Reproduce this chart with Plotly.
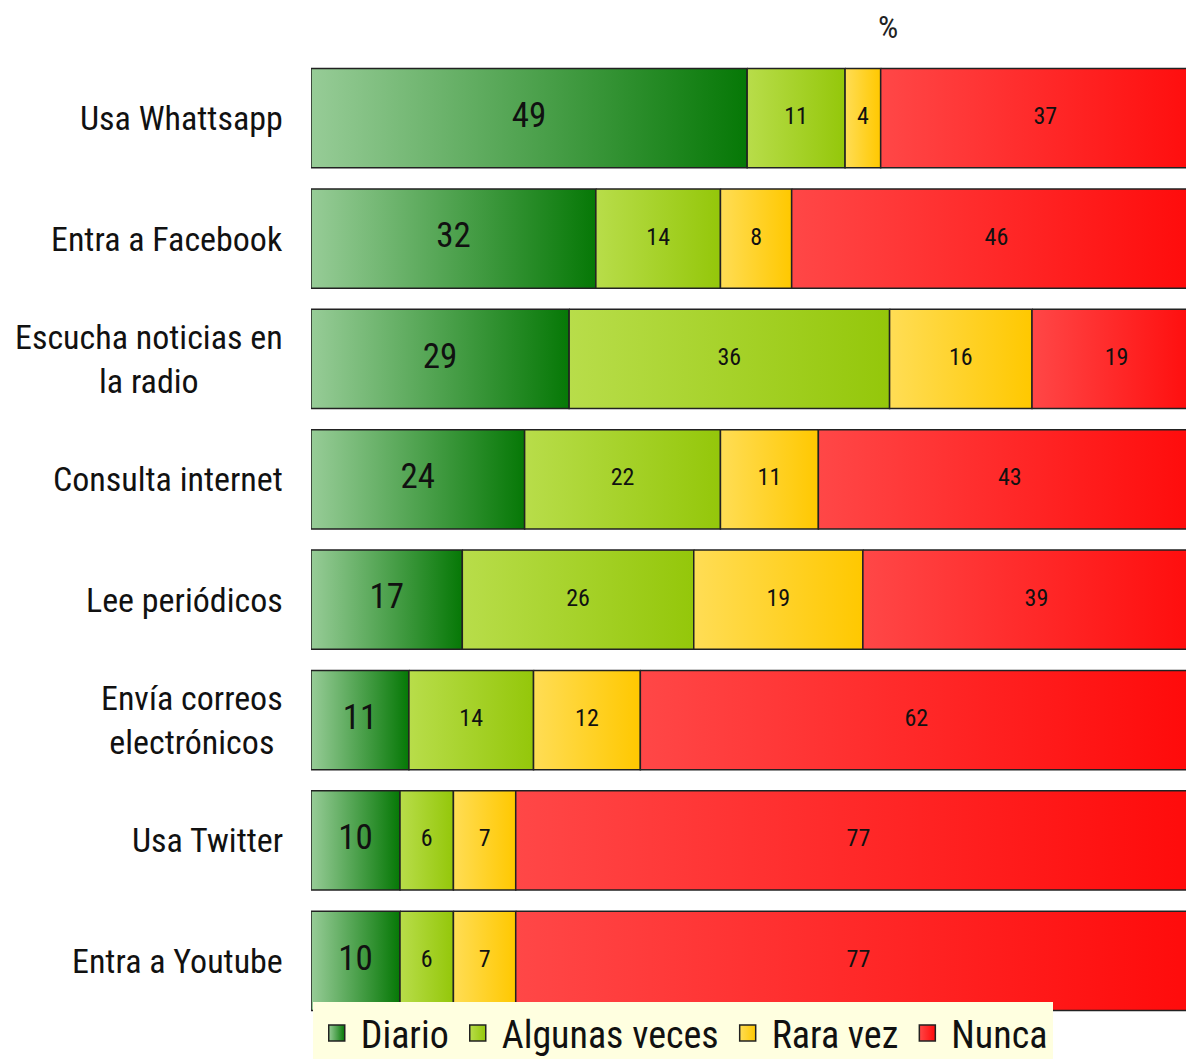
import plotly.graph_objects as go
import numpy as np

categories = ["Usa Whattsapp", "Entra a Facebook", "Escucha noticias en<br>la radio",
              "Consulta internet", "Lee periódicos", "Envía correos<br>electrónicos",
              "Usa Twitter", "Entra a Youtube"]
series_names = ["Diario", "Algunas veces", "Rara vez", "Nunca"]
diario = [49, 32, 29, 24, 17, 11, 10, 10]
algunas_veces = [11, 14, 36, 22, 26, 14, 6, 6]
rara_vez = [4, 8, 16, 11, 19, 12, 7, 7]
nunca = [37, 46, 19, 43, 39, 62, 77, 77]

values = [diario, algunas_veces, rara_vez, nunca]
grad_light = ["#97cc97", "#b8dd4a", "#ffdd55", "#ff4747"]
grad_dark = ["#067806", "#94c70a", "#ffc800", "#ff0a0a"]
label_sizes = [35, 24, 24, 24]

FONT = "Liberation Sans Narrow, Arial Narrow, Roboto Condensed, Liberation Sans, sans-serif"
half = 0.412

fig = go.Figure()

# legend entries
for s, name in enumerate(series_names):
    fig.add_trace(go.Scatter(
        x=[None], y=[None], mode="markers", name=name,
        marker=dict(symbol="square", size=22, color=grad_light[s],
                    gradient=dict(type="horizontal", color=grad_dark[s]),
                    line=dict(color="#222", width=1.5)),
        hoverinfo="skip"))

n = len(categories)
starts = np.zeros(n)
for s, vals in enumerate(values):
    vals = np.array(vals, dtype=float)
    for i in range(n):
        x0 = starts[i]
        x1 = starts[i] + vals[i]
        fig.add_trace(go.Scatter(
            x=[x0, x1, x1, x0, x0],
            y=[i - half, i - half, i + half, i + half, i - half],
            mode="lines", fill="toself",
            fillgradient=dict(type="horizontal",
                              colorscale=[[0, grad_light[s]], [1, grad_dark[s]]]),
            line=dict(color="#222", width=1.5),
            showlegend=False, hoverinfo="skip"))
    mids = starts + vals / 2
    fig.add_trace(go.Scatter(
        x=mids, y=list(range(n)), mode="text",
        text=[str(int(v)) for v in vals],
        textfont=dict(family=FONT, size=label_sizes[s], color="#111"),
        showlegend=False, hoverinfo="skip"))
    starts = starts + vals

for i, cat in enumerate(categories):
    fig.add_annotation(x=0, xref="paper", y=i, yref="y", text=cat,
                       showarrow=False, xanchor="right", align="center",
                       xshift=-26, font=dict(family=FONT, size=34, color="#111"))

W, H = 1186, 1059
fig.update_layout(
    width=W, height=H,
    margin=dict(l=311, r=0, t=58, b=38, autoexpand=False),
    paper_bgcolor="white", plot_bgcolor="white",
    font=dict(family=FONT, color="#111"),
    title=dict(text="%", x=888 / W, xanchor="center", y=1 - 27 / H,
               yanchor="middle", font=dict(family=FONT, size=32, color="#222")),
    xaxis=dict(range=[0, 98.3], visible=False, showgrid=False, zeroline=False),
    yaxis=dict(range=[n - 0.5, -0.5], visible=False, showgrid=False, zeroline=False),
    legend=dict(orientation="h", x=0.002, xanchor="left", y=0.02, yanchor="top",
                bgcolor="#ffffe0", font=dict(family=FONT, size=38, color="#111"),
                itemsizing="trace", itemwidth=38, tracegroupgap=0),
    showlegend=True,
)

fig.write_html("out.html", config={"displayModeBar": False},
               post_script="document.body.style.margin='0';")
